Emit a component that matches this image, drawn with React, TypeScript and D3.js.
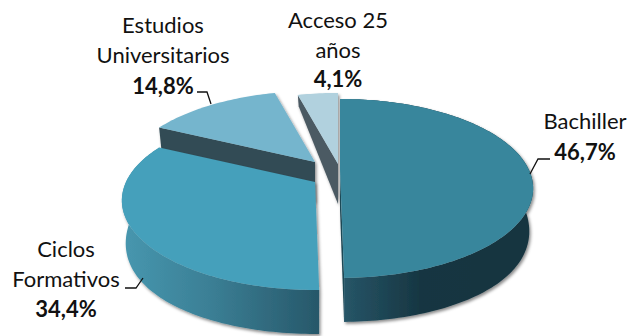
import React from "react";
import * as d3 from "d3";

// Access routes and their shares, in percent
const categories = ["Bachiller", "Ciclos Formativos", "Estudios Universitarios", "Acceso 25 años"];
const shares = [46.7, 34.4, 14.8, 4.1];
const shareLabels = ["46,7%", "34,4%", "14,8%", "4,1%"];
const topColors = ["#38869c", "#45a0bb", "#75b5cd", "#b1d1de"];

const WIDTH = 627;
const HEIGHT = 336;
const TAU = Math.PI * 2;
const DEG = TAU / 360;

// Perspective of the tilted disc: the far side shrinks, the near side grows
const PERSPECTIVE = 0.206;
const SCALE_X = 189;
const SCALE_Y = 85.7;
const BASE_NARROWING = 0.98;

// Exploded slice hubs, in the order of the categories
const hubs: [number, number][] = [
  [340, 170],
  [315, 182],
  [315, 162],
  [338, 164],
];

// The near half of the disc is widened so the first slice closes on the front edge
const FRONT_CLOSE = 179 * DEG;
const LEFT_SHIFT = 4 * DEG;

const labelLayout = [
  { x: 585, lines: ["Bachiller"], y: 129, valueY: 160 },
  { x: 66, lines: ["Ciclos", "Formativos"], y: 257, valueY: 317 },
  { x: 163, lines: ["Estudios", "Universitarios"], y: 33, valueY: 94 },
  { x: 338, lines: ["Acceso 25", "años"], y: 28, valueY: 87 },
];

const leaders: [number, number][][] = [
  [[550, 159], [538, 159], [530, 174]],
  [[125, 288], [136, 288], [143, 278]],
  [[197, 92], [207, 92], [211, 104]],
];

const arcs = d3.pie<number>().sort(null).startAngle(0).endAngle(TAU)(shares);

const warp = d3
  .scaleLinear()
  .domain([0, arcs[0].endAngle, arcs[1].endAngle, arcs[2].endAngle, TAU])
  .range([0, FRONT_CLOSE, arcs[1].endAngle + LEFT_SHIFT, arcs[2].endAngle, TAU]);

// Rim point of a slice at a disc angle, clockwise from the far side
function rim(theta: number, hub: [number, number]): [number, number] {
  const X = Math.sin(theta);
  const Y = Math.cos(theta);
  const w = 1 + PERSPECTIVE * Y;
  return [hub[0] + (SCALE_X * X) / w, hub[1] - (SCALE_Y * Y) / w];
}

// Visible thickness of the disc: thin at the far side, full at the near side
function depthAt(theta: number): number {
  const Y = Math.cos(theta);
  return 40 - 17 * Y - 13 * Y * Y;
}

// Matching point on the lower rim, slightly narrower than the upper one
function baseRim(theta: number, hub: [number, number]): [number, number] {
  const p = rim(theta, hub);
  return [hub[0] + (p[0] - hub[0]) * BASE_NARROWING, p[1] + depthAt(theta)];
}

const line = d3.line<[number, number]>();

function sweep(a0: number, a1: number): number[] {
  const n = Math.max(2, Math.ceil((a1 - a0) / 0.02));
  return d3.range(n + 1).map((i) => a0 + ((a1 - a0) * i) / n);
}

function topPath(a0: number, a1: number, hub: [number, number]) {
  return line([hub, ...sweep(a0, a1).map((t) => rim(t, hub))]) + "Z";
}

function outerWallPath(a0: number, a1: number, hub: [number, number]) {
  const angles = sweep(a0, a1);
  const upper = angles.map((t) => rim(t, hub));
  const lower = angles.map((t) => baseRim(t, hub)).reverse();
  return line([...upper, ...lower]) + "Z";
}

function radialWallPath(a: number, hub: [number, number]) {
  return line([hub, rim(a, hub), baseRim(a, hub), [hub[0], hub[1] + 40]]) + "Z";
}

const wallFills = ["url(#wall-bachiller)", "url(#wall-ciclos)", "#334c55", "#4c5a63"];
const radialFills = ["#1f4856", "#28596a", "#334c55", "#4c5a63"];

// Far slices go first so the nearer ones cover their walls
const drawOrder = [3, 2, 1, 0];

export default function App() {
  const font = "Lato, 'Open Sans', sans-serif";
  return (
    <svg
      width={WIDTH}
      height={HEIGHT}
      viewBox={`0 0 ${WIDTH} ${HEIGHT}`}
      style={{ position: "absolute", left: 0, top: 0, background: "#fff" }}
    >
      <defs>
        <linearGradient id="wall-bachiller" gradientUnits="userSpaceOnUse" x1="345" x2="533" y1="0" y2="0">
          <stop offset="0" stopColor="#265567" />
          <stop offset="0.4" stopColor="#173642" />
          <stop offset="1" stopColor="#173540" />
        </linearGradient>
        <linearGradient id="wall-ciclos" gradientUnits="userSpaceOnUse" x1="122" x2="318" y1="0" y2="0">
          <stop offset="0" stopColor="#4797af" />
          <stop offset="0.45" stopColor="#3b7f95" />
          <stop offset="1" stopColor="#27586a" />
        </linearGradient>
        <filter id="soft-shadow" x="-10%" y="-10%" width="120%" height="125%">
          <feDropShadow dx="1.5" dy="2" stdDeviation="1.6" floodColor="#000" floodOpacity="0.45" />
        </filter>
      </defs>

      {drawOrder.map((i) => {
        const start = warp(arcs[i].startAngle);
        const end = warp(arcs[i].endAngle);
        const hub = hubs[i];
        return (
          <g key={categories[i]} filter="url(#soft-shadow)">
            {Math.sin(start) < -1e-6 && <path d={radialWallPath(start, hub)} fill={radialFills[i]} />}
            {Math.sin(end) > 1e-6 && <path d={radialWallPath(end, hub)} fill={radialFills[i]} />}
            {i < 2 && <path d={outerWallPath(start, end, hub)} fill={wallFills[i]} />}
            <path d={topPath(start, end, hub)} fill={topColors[i]} />
          </g>
        );
      })}

      {leaders.map((pts, i) => (
        <path key={i} d={line(pts) ?? ""} fill="none" stroke="#111" strokeWidth={1.3} />
      ))}

      {labelLayout.map((l, i) => (
        <g key={categories[i]} fontFamily={font} fontSize={22} textAnchor="middle" fill="#111">
          {l.lines.map((t, j) => (
            <text key={t} x={l.x} y={l.y + j * 30}>
              {t}
            </text>
          ))}
          <text x={l.x} y={l.valueY} fontWeight={700}>
            {shareLabels[i]}
          </text>
        </g>
      ))}
    </svg>
  );
}
